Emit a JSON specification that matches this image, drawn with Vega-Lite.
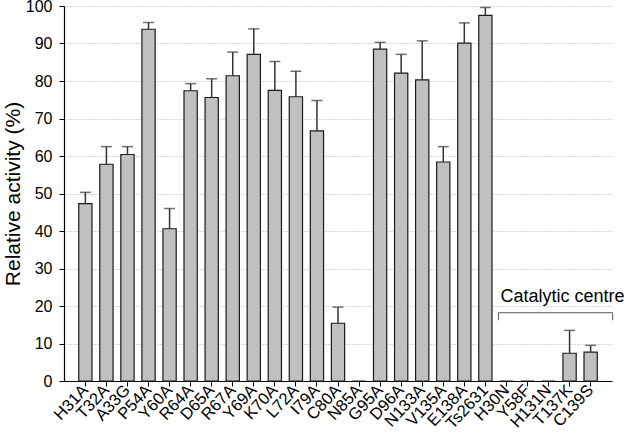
{
  "$schema": "https://vega.github.io/schema/vega-lite/v6.json",
  "width": 548,
  "height": 375,
  "autosize": "none",
  "padding": {"left": 64, "top": 6, "right": 12, "bottom": 55},
  "background": "white",
  "config": {
    "view": {"stroke": null},
    "font": "Liberation Sans",
    "axisX": {
      "labelAngle": -47,
      "labelFontSize": 16.5,
      "labelColor": "black",
      "labelPadding": 1,
      "labelOverlap": false,
      "labelLimit": 0,
      "tickSize": 5,
      "tickColor": "black",
      "domainColor": "black",
      "domainWidth": 1.2,
      "grid": false
    },
    "axisY": {
      "titleFontSize": 21,
      "titleFontWeight": "normal",
      "titleColor": "black",
      "titlePadding": 2,
      "labelOverlap": false,
      "labelFontSize": 16,
      "labelColor": "black",
      "labelPadding": 7,
      "tickSize": 5,
      "tickColor": "black",
      "domainColor": "black",
      "domainWidth": 1.2,
      "grid": true,
      "gridDash": [1, 2],
      "gridColor": "#b0b0b0"
    }
  },
  "datasets": {
    "bars": [
      {"mutant": "H31A", "value": 47.3, "hi": 50.3},
      {"mutant": "T32A", "value": 57.8, "hi": 62.5},
      {"mutant": "A33G", "value": 60.4, "hi": 62.5},
      {"mutant": "P54A", "value": 93.8, "hi": 95.6},
      {"mutant": "Y60A", "value": 40.6, "hi": 46.0},
      {"mutant": "R64A", "value": 77.4, "hi": 79.3},
      {"mutant": "D65A", "value": 75.6, "hi": 80.6},
      {"mutant": "R67A", "value": 81.4, "hi": 87.7},
      {"mutant": "Y69A", "value": 87.1, "hi": 93.9},
      {"mutant": "K70A", "value": 77.5, "hi": 85.2},
      {"mutant": "L72A", "value": 75.8, "hi": 82.6},
      {"mutant": "I79A", "value": 66.7, "hi": 74.8},
      {"mutant": "C80A", "value": 15.4, "hi": 19.7},
      {"mutant": "N85A", "value": 0, "hi": null},
      {"mutant": "G95A", "value": 88.5, "hi": 90.3},
      {"mutant": "D96A", "value": 82.1, "hi": 87.1},
      {"mutant": "N133A", "value": 80.3, "hi": 90.7},
      {"mutant": "V135A", "value": 58.4, "hi": 62.5},
      {"mutant": "E138A", "value": 90.1, "hi": 95.5},
      {"mutant": "Ts2631", "value": 97.5, "hi": 99.6},
      {"mutant": "H30N", "value": 0, "hi": null},
      {"mutant": "Y58F", "value": 0, "hi": null},
      {"mutant": "H131N", "value": 0, "hi": null},
      {"mutant": "T137K", "value": 7.4, "hi": 13.5},
      {"mutant": "C139S", "value": 7.7, "hi": 9.5}
    ],
    "bracket": [
      {"start": "H30N", "end": "C139S", "level": 18.2, "foot": 16.2, "mid": "H131N", "label": "Catalytic centre", "labelLevel": 21.1}
    ]
  },
  "layer": [
    {
      "data": {"name": "bars"},
      "mark": {"type": "bar", "fill": "#c0c0c0", "stroke": "#1a1a1a", "strokeWidth": 1.2},
      "encoding": {
        "x": {
          "field": "mutant",
          "type": "nominal",
          "sort": null,
          "scale": {"paddingInner": 0.37, "paddingOuter": 0.7},
          "axis": {"title": null}
        },
        "y": {
          "field": "value",
          "type": "quantitative",
          "scale": {"domain": [0, 100], "nice": false},
          "axis": {"title": "Relative activity (%)", "values": [0, 10, 20, 30, 40, 50, 60, 70, 80, 90, 100]}
        }
      }
    },
    {
      "data": {"name": "bars"},
      "transform": [{"filter": "datum.hi != null"}],
      "mark": {"type": "rule", "color": "#333333", "strokeWidth": 1.5},
      "encoding": {
        "x": {"field": "mutant", "type": "nominal", "sort": null, "axis": {"title": null}},
        "y": {"field": "value", "type": "quantitative", "axis": {"title": "Relative activity (%)", "values": [0, 10, 20, 30, 40, 50, 60, 70, 80, 90, 100]}},
        "y2": {"field": "hi"}
      }
    },
    {
      "data": {"name": "bars"},
      "transform": [{"filter": "datum.hi != null"}],
      "mark": {"type": "tick", "color": "#333333", "thickness": 1.5, "size": 11},
      "encoding": {
        "x": {"field": "mutant", "type": "nominal", "sort": null, "axis": {"title": null}},
        "y": {"field": "hi", "type": "quantitative", "axis": {"title": "Relative activity (%)", "values": [0, 10, 20, 30, 40, 50, 60, 70, 80, 90, 100]}}
      }
    },
    {
      "data": {"name": "bracket"},
      "mark": {"type": "rule", "color": "#555555", "strokeWidth": 1, "xOffset": -8, "x2Offset": 22},
      "encoding": {
        "x": {"field": "start", "type": "nominal", "sort": null, "axis": {"title": null}},
        "x2": {"field": "end"},
        "y": {"field": "level", "type": "quantitative", "axis": {"title": "Relative activity (%)", "values": [0, 10, 20, 30, 40, 50, 60, 70, 80, 90, 100]}}
      }
    },
    {
      "data": {"name": "bracket"},
      "mark": {"type": "rule", "color": "#555555", "strokeWidth": 1, "xOffset": -8},
      "encoding": {
        "x": {"field": "start", "type": "nominal", "sort": null, "axis": {"title": null}},
        "y": {"field": "level", "type": "quantitative", "axis": {"title": "Relative activity (%)", "values": [0, 10, 20, 30, 40, 50, 60, 70, 80, 90, 100]}},
        "y2": {"field": "foot"}
      }
    },
    {
      "data": {"name": "bracket"},
      "mark": {"type": "rule", "color": "#555555", "strokeWidth": 1, "xOffset": 22},
      "encoding": {
        "x": {"field": "end", "type": "nominal", "sort": null, "axis": {"title": null}},
        "y": {"field": "level", "type": "quantitative", "axis": {"title": "Relative activity (%)", "values": [0, 10, 20, 30, 40, 50, 60, 70, 80, 90, 100]}},
        "y2": {"field": "foot"}
      }
    },
    {
      "data": {"name": "bracket"},
      "mark": {"type": "text", "fontSize": 18, "fontWeight": "normal", "color": "black", "align": "center", "baseline": "alphabetic", "xOffset": 14},
      "encoding": {
        "x": {"field": "mid", "type": "nominal", "sort": null, "axis": {"title": null}},
        "y": {"field": "labelLevel", "type": "quantitative", "axis": {"title": "Relative activity (%)", "values": [0, 10, 20, 30, 40, 50, 60, 70, 80, 90, 100]}},
        "text": {"field": "label"}
      }
    }
  ]
}
